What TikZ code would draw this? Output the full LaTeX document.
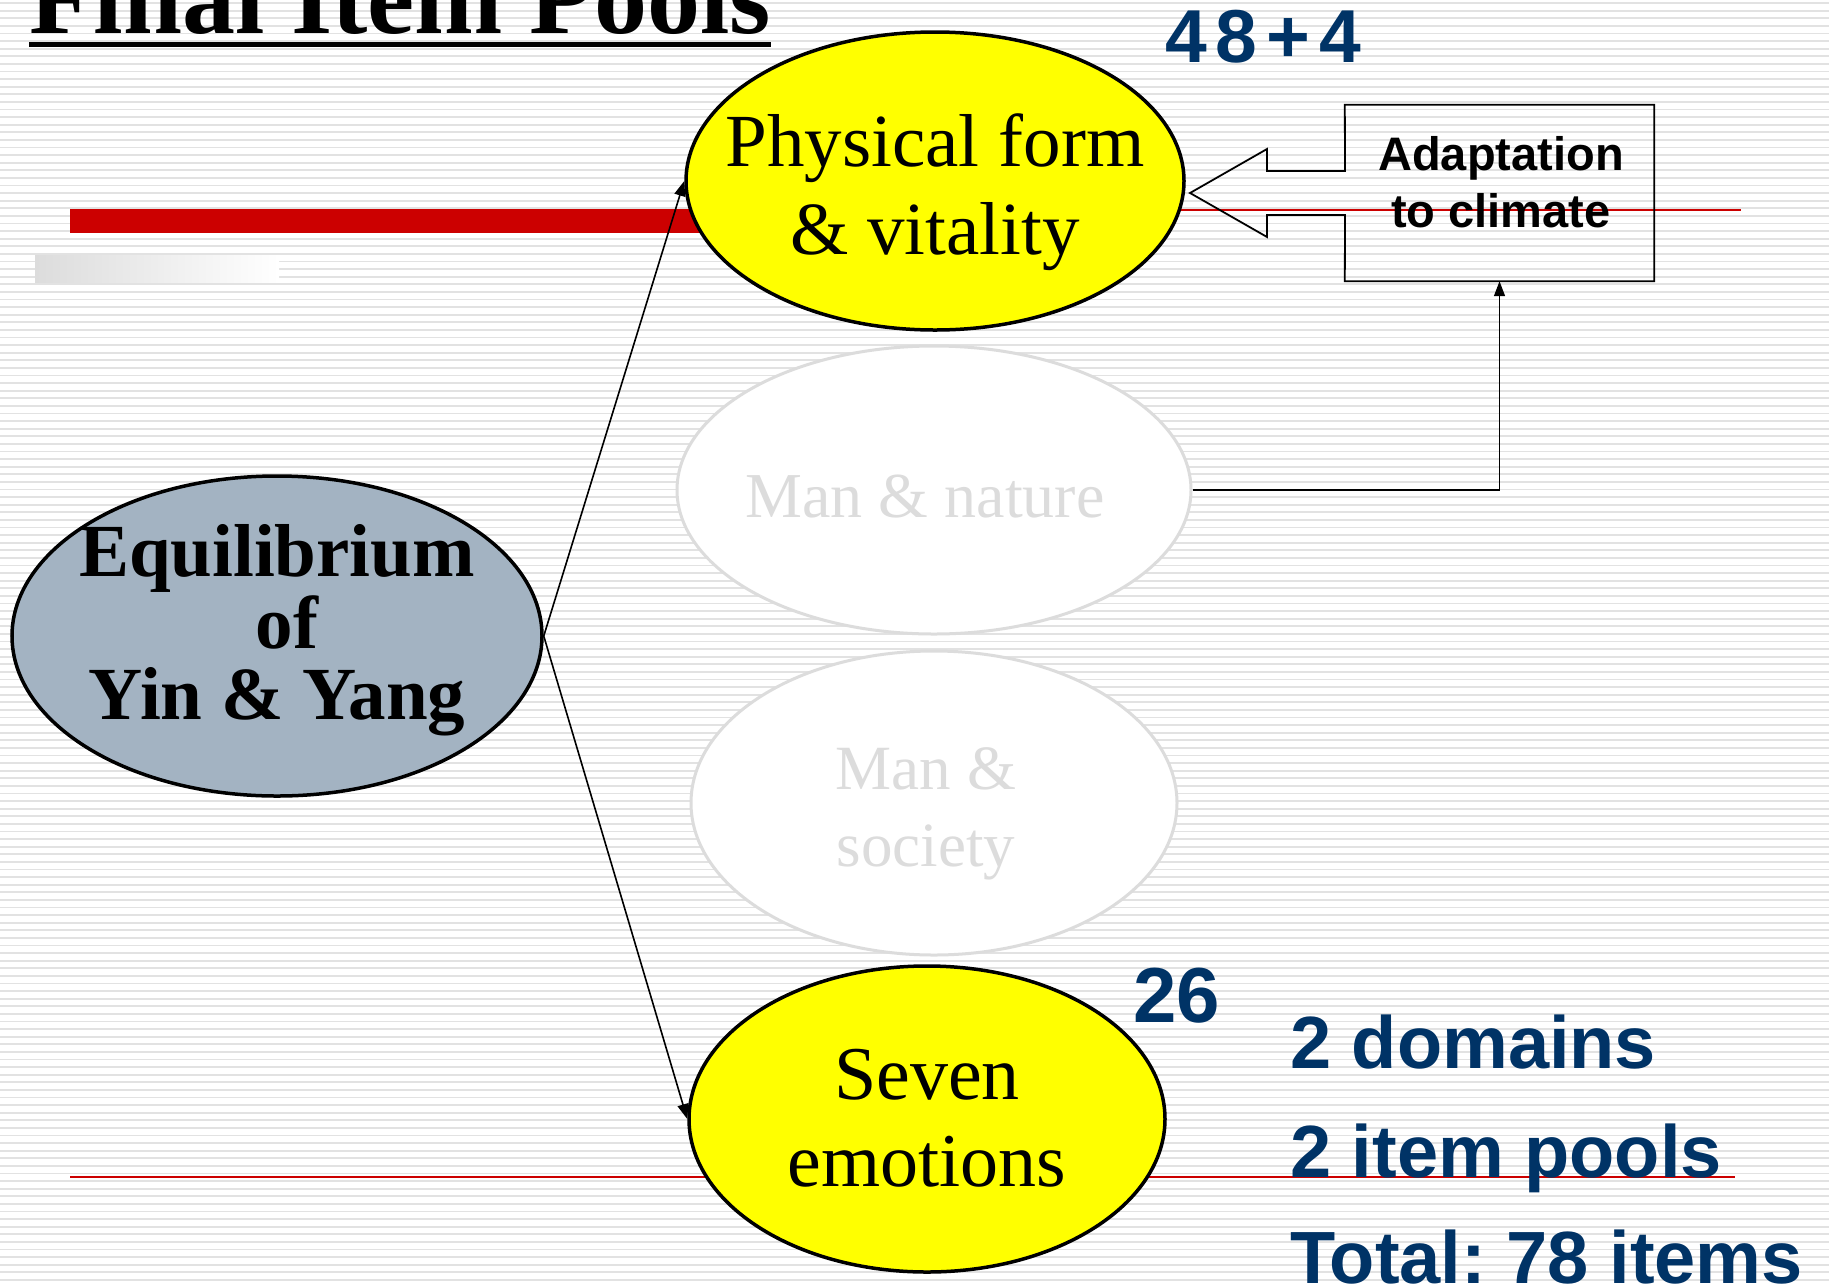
\documentclass[tikz,border=0pt]{standalone}
\usepackage{fontspec}
\setmainfont{Liberation Serif}
\newfontfamily\arialfont{Liberation Sans}
\usetikzlibrary{arrows.meta,shapes.geometric,positioning}
\frenchspacing

\definecolor{poolyellow}{RGB}{255,255,0}
\definecolor{slategrey}{RGB}{163,179,194}
\definecolor{navytext}{RGB}{0,51,102}
\definecolor{barred}{RGB}{204,0,0}
\definecolor{stripegrey}{RGB}{226,226,226}
\definecolor{fadegrey}{RGB}{220,220,220}

\tikzset{
  poolnode/.style={ellipse, draw=black, line width=3.5pt, fill=poolyellow, inner sep=0pt},
  rootnode/.style={poolnode, fill=slategrey},
  fadednode/.style={poolnode, draw=fadegrey, line width=3pt, fill=white},
  lbl/.style={inner sep=0pt, align=center},
  count/.style={inner sep=0pt, anchor=base west, text=navytext},
  link/.style={line width=1.6pt, -{Triangle[length=15pt,width=11pt]}},
}

\begin{document}
\begin{tikzpicture}[x=1pt,y=-1pt]
\useasboundingbox (0,0) rectangle (1829,1286);
\clip (0,0) rectangle (1829,1286);
\fill[white] (0,0) rectangle (1829,1286);
\foreach \i in {0,...,169}
  \draw[stripegrey, line width=1.8pt] (0,3+\i*7.6) -- (1829,3+\i*7.6);

% bars and rules
\fill[barred] (70,209) rectangle (720,233);
\fill[left color=fadegrey, right color=white] (35,255) rectangle (279,282);
\draw[barred, line width=1.3pt] (700,210) -- (1741,210);
\draw[barred, line width=1.3pt] (70,1177) -- (1735,1177);

% title
\node[inner sep=0pt, anchor=base west, font=\bfseries\fontsize{106}{110}\selectfont] (title) at (29,33) {Final Item Pools};
\draw[line width=5pt] ([yshift=-11pt]title.base west) -- ([yshift=-11pt]title.base east);

% domains
\node[poolnode, minimum width=498, minimum height=298] (phys) at (935,181) {};
\node[fadednode, minimum width=514, minimum height=288] (nature) at (934,490) {};
\node[fadednode, minimum width=486, minimum height=304] (society) at (934,803) {};
\node[poolnode, minimum width=476, minimum height=306] (seven) at (927,1119) {};
\node[rootnode, minimum width=530, minimum height=320] (yinyang) at (277,636) {};

\node[lbl, font=\fontsize{75}{88}\selectfont] (physt) at (935,192.5) {Physical form\\\& vitality};
\node[lbl, anchor=base, text=fadegrey, font=\fontsize{64}{77}\selectfont] (naturet) at (925,517) {Man \& nature};
\node[lbl, text=fadegrey, font=\fontsize{63}{77}\selectfont] (societyt) at (926,814) {Man \&\\society};
\node[lbl, font=\fontsize{76}{87}\selectfont] (sevent) at (927,1118) {Seven\\emotions};
\node[lbl, font=\bfseries\fontsize{75}{71.5}\selectfont] (yinyangt) at (277,630.5) {Equilibrium\\\hspace*{20pt}of\\Yin \& Yang};

% adaptation callout
\node[minimum width=309, minimum height=176, inner sep=0pt] (adapt) at (1499.5,193) {};
\draw[line width=1.8pt] (adapt.north west) -- (adapt.north east) -- (adapt.south east)
  -- (adapt.south west) -- (1345,215) -- (1267,215) -- (1267,237) -- (1190,193)
  -- (1267,149) -- (1267,171) -- (1345,171) -- cycle;
\node[lbl, font=\arialfont\bfseries\fontsize{47}{57}\selectfont] (adaptt) at (1501,182.5) {Adaptation\\to climate};

% connectors
\draw[link] (yinyang.east) -- (phys.west);
\draw[link] (yinyang.east) -- (seven.west);
\draw[link, line width=1.4pt] (nature.east) -| (adapt.south);

% item counts
\node[count, font=\arialfont\bfseries\fontsize{75}{80}\selectfont\addfontfeature{LetterSpace=12}] (n48) at (1165,62) {48+4};
\node[count, font=\arialfont\bfseries\fontsize{78}{80}\selectfont] (n26) at (1133,1022) {26};
\node[count, font=\arialfont\bfseries\fontsize{74}{80}\selectfont] (sumA) at (1290,1068) {2 domains};
\node[count, font=\arialfont\bfseries\fontsize{74}{80}\selectfont] (sumB) at (1290,1177) {2 item pools};
\node[count, font=\arialfont\bfseries\fontsize{74}{80}\selectfont] (sumC) at (1290,1283) {Total: 78 items};
\end{tikzpicture}
\end{document}
